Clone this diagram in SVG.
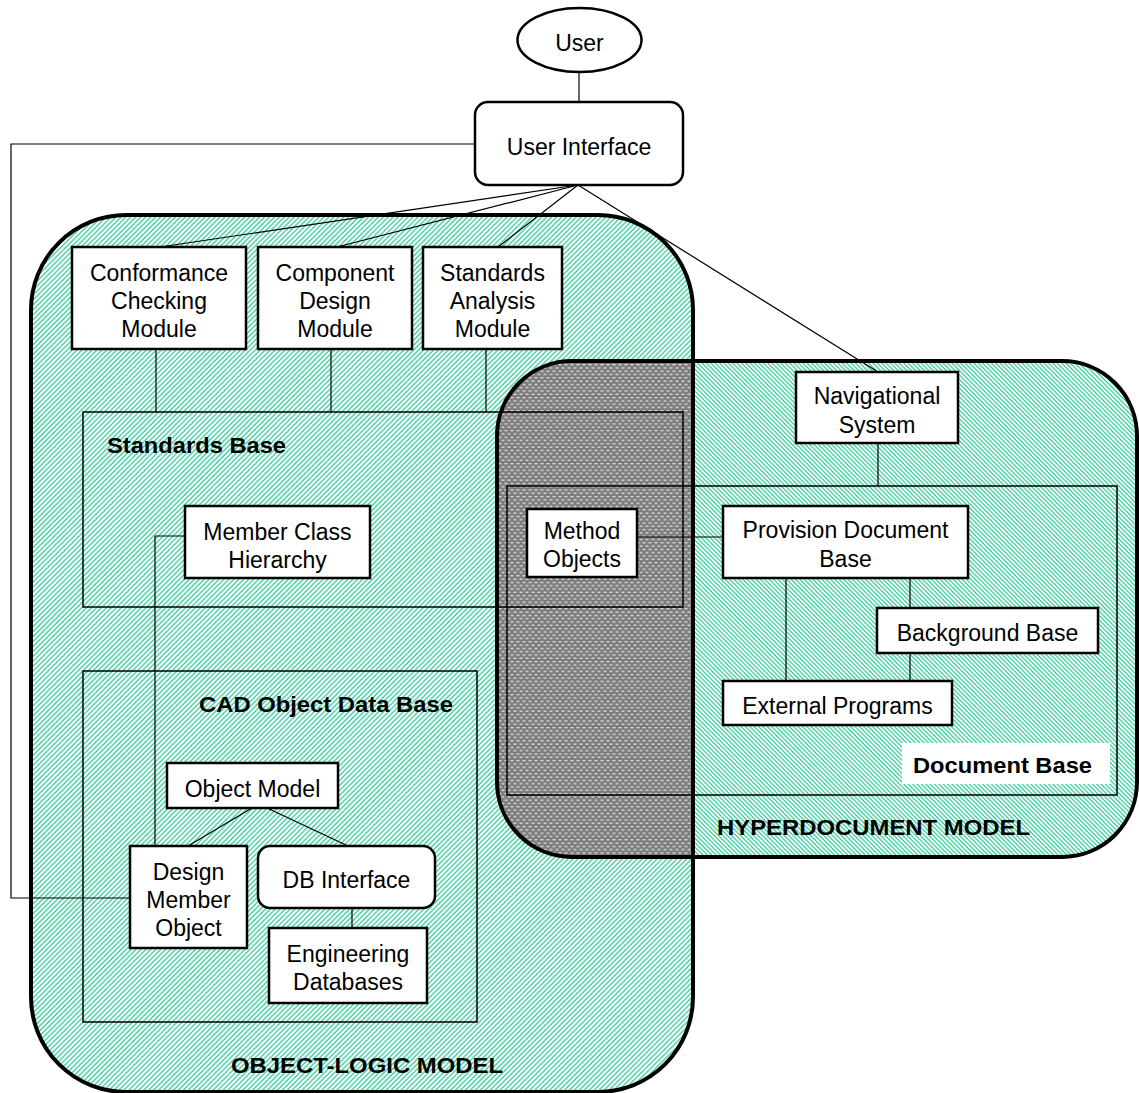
<svg xmlns="http://www.w3.org/2000/svg" width="1139" height="1093" viewBox="0 0 1139 1093">
  <style>
    text { font-family: "Liberation Sans", Arial, sans-serif; fill: #000; }
    .t { font-size: 23px; text-anchor: middle; }
    .b { font-size: 22px; font-weight: bold; }
    .node { fill: #fff; stroke: #000; stroke-width: 2.5; }
    .region { fill: none; stroke: #000; stroke-width: 4; }
    .base { fill: none; stroke: #000; stroke-width: 1.5; }
    .link { fill: none; stroke: #000; stroke-width: 1.2; }
  </style>
  <defs>
    <!-- forward diagonal hatch for the object-logic model -->
    <pattern id="hatchL" patternUnits="userSpaceOnUse" width="3.5" height="3.5" patternTransform="rotate(45)">
      <rect width="3.5" height="3.5" fill="#fff"/>
      <line x1="1" y1="0" x2="1" y2="3.5" stroke="#33c999" stroke-width="1.3"/>
    </pattern>
    <!-- backward diagonal hatch for the hyperdocument model -->
    <pattern id="hatchR" patternUnits="userSpaceOnUse" width="3.1" height="3.1" patternTransform="rotate(-45)">
      <rect width="3.1" height="3.1" fill="#fff"/>
      <line x1="1" y1="0" x2="1" y2="3.1" stroke="#33c999" stroke-width="1.25"/>
    </pattern>
    <!-- dotted grey fill where the two models overlap -->
    <pattern id="dots" patternUnits="userSpaceOnUse" width="6" height="6.6">
      <rect width="6" height="6.6" fill="#7d7d7d"/>
      <rect x="0.5" y="1" width="3" height="1.2" fill="#e6e6e6"/>
      <rect x="3.5" y="4.3" width="3" height="1.2" fill="#e6e6e6"/>
      <rect x="-2.5" y="4.3" width="3" height="1.2" fill="#e6e6e6"/>
    </pattern>
    <clipPath id="leftClip">
      <rect x="31" y="215" width="662" height="877" rx="95" ry="95"/>
    </clipPath>
  </defs>

  <!-- model regions -->
  <g id="object-logic-model">
    <rect x="31" y="215" width="662" height="877" rx="95" ry="95" fill="url(#hatchL)"/>
  </g>
  <g id="hyperdocument-model">
    <rect x="497" y="361" width="640" height="496" rx="75" ry="75" fill="url(#hatchR)"/>
  </g>
  <g id="model-overlap">
    <rect x="497" y="361" width="640" height="496" rx="75" ry="75" fill="url(#dots)" clip-path="url(#leftClip)"/>
  </g>
  <rect class="region" x="31" y="215" width="662" height="877" rx="95" ry="95"/>
  <rect class="region" x="497" y="361" width="640" height="496" rx="75" ry="75"/>
  <text class="b" x="231" y="1073" textLength="272" lengthAdjust="spacingAndGlyphs">OBJECT-LOGIC MODEL</text>
  <text class="b" x="717" y="835" textLength="313" lengthAdjust="spacingAndGlyphs">HYPERDOCUMENT MODEL</text>

  <!-- knowledge bases -->
  <g id="standards-base">
    <rect class="base" x="83" y="412" width="600" height="195"/>
    <text class="b" x="107" y="453" textLength="179" lengthAdjust="spacingAndGlyphs">Standards Base</text>
  </g>
  <g id="cad-object-data-base">
    <rect class="base" x="83" y="671" width="394" height="351"/>
    <text class="b" x="199" y="712" textLength="254" lengthAdjust="spacingAndGlyphs">CAD Object Data Base</text>
  </g>
  <g id="document-base">
    <rect class="base" x="507" y="486" width="610" height="309"/>
    <rect x="902" y="743" width="208" height="41" fill="#fff"/>
    <text class="b" x="913" y="773" textLength="179" lengthAdjust="spacingAndGlyphs">Document Base</text>
  </g>

  <!-- connectors -->
  <g id="connectors">
    <line class="link" x1="579" y1="72" x2="579" y2="102"/>
    <line class="link" x1="578" y1="185" x2="160" y2="247"/>
    <line class="link" x1="578" y1="185" x2="337" y2="247"/>
    <line class="link" x1="578" y1="185" x2="498" y2="247"/>
    <line class="link" x1="578" y1="185" x2="878" y2="372"/>
    <polyline class="link" points="475,144 11,144 11,898 130,898"/>
    <line class="link" x1="156" y1="349" x2="156" y2="412"/>
    <line class="link" x1="331" y1="349" x2="331" y2="412"/>
    <line class="link" x1="486" y1="349" x2="486" y2="412"/>
    <polyline class="link" points="185,536 155,536 155,846"/>
    <line class="link" x1="252" y1="808" x2="188" y2="846"/>
    <line class="link" x1="267" y1="808" x2="348" y2="846"/>
    <line class="link" x1="352" y1="908" x2="352" y2="928"/>
    <line class="link" x1="878" y1="443" x2="878" y2="486"/>
    <line class="link" x1="637" y1="537" x2="723" y2="537"/>
    <line class="link" x1="786" y1="578" x2="786" y2="681"/>
    <line class="link" x1="910" y1="578" x2="910" y2="608"/>
    <line class="link" x1="910" y1="653" x2="910" y2="681"/>
  </g>

  <!-- nodes -->
  <g id="user">
    <ellipse class="node" cx="579.5" cy="40" rx="62" ry="32"/>
    <text class="t" x="579.5" y="51">User</text>
  </g>
  <g id="user-interface">
    <rect class="node" x="475" y="102" width="208" height="83" rx="13" ry="13"/>
    <text class="t" x="579" y="155">User Interface</text>
  </g>
  <g id="conformance-checking-module">
    <rect class="node" x="72" y="247" width="174" height="102"/>
    <text class="t" x="159" y="281">Conformance</text>
    <text class="t" x="159" y="309">Checking</text>
    <text class="t" x="159" y="337">Module</text>
  </g>
  <g id="component-design-module">
    <rect class="node" x="258" y="247" width="154" height="102"/>
    <text class="t" x="335" y="281">Component</text>
    <text class="t" x="335" y="309">Design</text>
    <text class="t" x="335" y="337">Module</text>
  </g>
  <g id="standards-analysis-module">
    <rect class="node" x="423" y="247" width="139" height="102"/>
    <text class="t" x="492.5" y="281">Standards</text>
    <text class="t" x="492.5" y="309">Analysis</text>
    <text class="t" x="492.5" y="337">Module</text>
  </g>
  <g id="member-class-hierarchy">
    <rect class="node" x="185" y="506" width="185" height="72"/>
    <text class="t" x="277.5" y="540">Member Class</text>
    <text class="t" x="277.5" y="568">Hierarchy</text>
  </g>
  <g id="object-model">
    <rect class="node" x="167" y="763" width="171" height="45"/>
    <text class="t" x="252.5" y="797">Object Model</text>
  </g>
  <g id="design-member-object">
    <rect class="node" x="130" y="846" width="117" height="102"/>
    <text class="t" x="188.5" y="880">Design</text>
    <text class="t" x="188.5" y="908">Member</text>
    <text class="t" x="188.5" y="936">Object</text>
  </g>
  <g id="db-interface">
    <rect class="node" x="258" y="846" width="177" height="62" rx="12" ry="12"/>
    <text class="t" x="346.5" y="888">DB Interface</text>
  </g>
  <g id="engineering-databases">
    <rect class="node" x="269" y="928" width="158" height="75"/>
    <text class="t" x="348" y="962">Engineering</text>
    <text class="t" x="348" y="990">Databases</text>
  </g>
  <g id="navigational-system">
    <rect class="node" x="796" y="372" width="162" height="71"/>
    <text class="t" x="877" y="404">Navigational</text>
    <text class="t" x="877" y="433">System</text>
  </g>
  <g id="method-objects">
    <rect class="node" x="527" y="509" width="110" height="68"/>
    <text class="t" x="582" y="539">Method</text>
    <text class="t" x="582" y="567">Objects</text>
  </g>
  <g id="provision-document-base">
    <rect class="node" x="723" y="506" width="245" height="72"/>
    <text class="t" x="845.5" y="538">Provision Document</text>
    <text class="t" x="845.5" y="567">Base</text>
  </g>
  <g id="background-base">
    <rect class="node" x="877" y="608" width="221" height="45"/>
    <text class="t" x="987.5" y="641">Background Base</text>
  </g>
  <g id="external-programs">
    <rect class="node" x="723" y="681" width="229" height="44"/>
    <text class="t" x="837.5" y="714">External Programs</text>
  </g>
</svg>
